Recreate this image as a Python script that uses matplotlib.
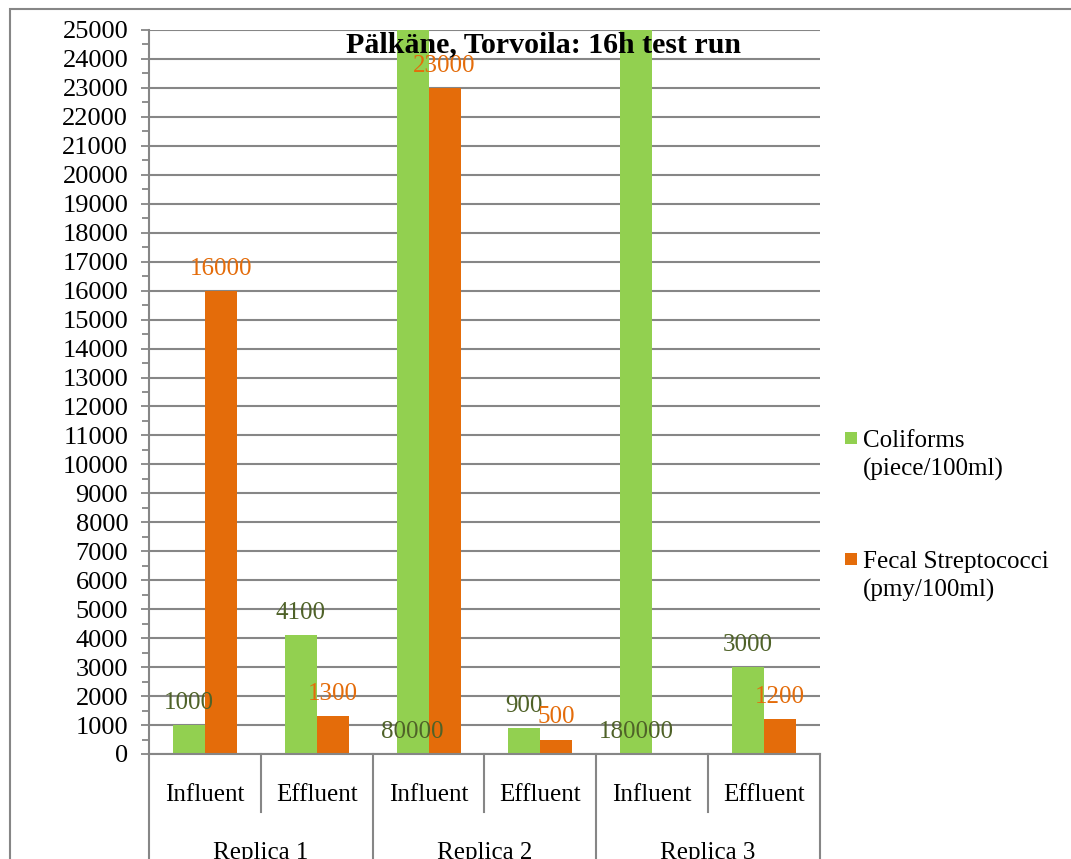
import numpy as np
import matplotlib
matplotlib.use("Agg")
import matplotlib.pyplot as plt
from matplotlib.patches import Rectangle
from matplotlib.transforms import blended_transform_factory

plt.rcParams['font.family'] = ['Liberation Serif', 'DejaVu Serif']

# ---- data ----
sub_labels = ["Influent", "Effluent", "Influent", "Effluent", "Influent", "Effluent"]
group_labels = ["Replica 1", "Replica 2", "Replica 3"]
coliforms = [1000, 4100, 80000, 900, 180000, 3000]
fecal_strep = [16000, 1300, 23000, 500, np.nan, 1200]
series_names = [["Coliforms", "(piece/100ml)"], ["Fecal Streptococci", "(pmy/100ml)"]]
title = "Pälkäne, Torvoila: 16h test run"
y_max = 25000

green = "#92D050"
orange = "#E46C0A"
green_lbl = "#4F6228"
grid_c = "#868686"

W, H = 1071, 859
fig = plt.figure(figsize=(W / 100, H / 100), dpi=100)
ax = fig.add_axes([149 / W, (H - 754) / H, (820 - 149) / W, (754 - 30) / H])

x = np.arange(len(sub_labels))
bw = 0.286
b1 = ax.bar(x - bw / 2, coliforms, bw, color=green, zorder=2)
b2 = ax.bar(x + bw / 2, fecal_strep, bw, color=orange, zorder=2)

ax.set_xlim(-0.5, len(sub_labels) - 0.5)
ax.set_ylim(0, y_max)
ax.set_yticks(np.arange(0, y_max + 1, 1000))
ax.set_yticks(np.arange(500, y_max, 1000), minor=True)
ax.tick_params(axis='y', which='major', length=6, width=1.3, color=grid_c,
               labelsize=19, pad=9, direction='out')
ax.tick_params(axis='y', which='minor', length=5, width=1.3, color=grid_c, direction='out')
ax.set_xticks([])
ax.grid(axis='y', color=grid_c, lw=1.5, zorder=0)
ax.set_axisbelow(True)
for s in ['top', 'right']:
    ax.spines[s].set_visible(False)
for s in ['left', 'bottom']:
    ax.spines[s].set_color(grid_c)
    ax.spines[s].set_linewidth(1.5)

# data labels
for xi, v in zip(x, coliforms):
    anchor = v if v <= y_max else 0
    ax.annotate(f"{v}", (xi - bw / 2, anchor), xytext=(0, 8), textcoords='offset points',
                ha='center', va='bottom', fontsize=18, color=green_lbl, zorder=4)
for xi, v in zip(x, fecal_strep):
    if not np.isnan(v):
        ax.annotate(f"{int(v)}", (xi + bw / 2, v), xytext=(0, 8), textcoords='offset points',
                    ha='center', va='bottom', fontsize=18, color=orange, zorder=4)

# category axis (multi-level)
tr = blended_transform_factory(ax.transData, ax.transAxes)
for i, lab in enumerate(sub_labels):
    ax.text(i, -0.057, lab, transform=tr, ha='center', va='center', fontsize=18)
for g, lab in enumerate(group_labels):
    ax.text(2 * g + 0.5, -0.137, lab, transform=tr, ha='center', va='center',
            fontsize=18, clip_on=False)
for b in np.arange(-0.5, len(sub_labels), 1.0):
    idx = int(b + 0.5)
    y_end = -0.2 if idx % 2 == 0 else -0.080
    ax.plot([b, b], [0, y_end], transform=tr, color=grid_c, lw=1.5, clip_on=False)

# title
fig.text(543 / W, 1 - 45 / H, title, ha='center', va='center', fontsize=21.5,
         fontweight='bold', zorder=5)

# legend (Excel style: marker aligned with first text line)
leg_items = [(green, 432, series_names[0]), (orange, 553, series_names[1])]
for col, top, lines in leg_items:
    fig.patches.append(Rectangle((845 / W, 1 - (top + 12) / H), 12 / W, 12 / H,
                                 transform=fig.transFigure, facecolor=col, edgecolor='none'))
    for k, line in enumerate(lines):
        fig.text(863 / W, 1 - (top + 15 + 29 * k) / H, line, ha='left', va='baseline',
                 fontsize=18)

# outer chart border
fig.patches.append(Rectangle((10 / W, -0.1), 1.2, (H - 9) / H + 0.1,
                             transform=fig.transFigure, fill=False,
                             edgecolor=grid_c, lw=1.5))

fig.savefig("out.png", dpi=100)
